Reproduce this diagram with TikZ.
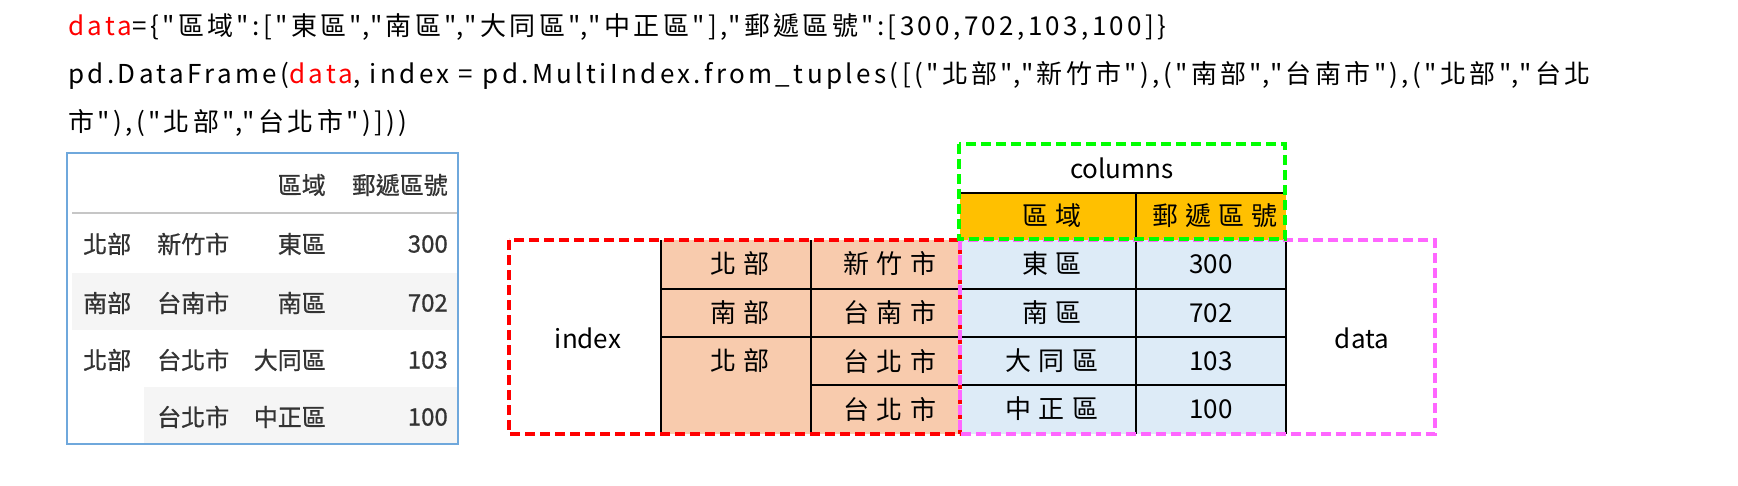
\documentclass[tikz,border=0pt]{standalone}
\usepackage{fontspec}
\setmainfont{Noto Sans CJK TC}
\newfontfamily\codefont[LetterSpace=13]{Noto Sans CJK TC}
\newfontfamily\wideface[LetterSpace=28]{Noto Sans CJK TC}
\newfontfamily\shotface[FakeBold=0.7]{Noto Sans CJK TC}
\usetikzlibrary{positioning}
\definecolor{idxfill}{HTML}{F8CBAD}
\definecolor{datfill}{HTML}{DDEBF7}
\definecolor{colfill}{HTML}{FFC000}
\definecolor{shotframe}{HTML}{6FA8DC}
\definecolor{shotshade}{HTML}{F5F5F5}
\definecolor{shottext}{HTML}{333333}
\definecolor{pinkline}{HTML}{FF66FF}
\definecolor{greenline}{HTML}{00FF00}

\begin{document}
\begin{tikzpicture}[x=1pt,y=-1pt,every node/.style={inner sep=0pt},
	code/.style={anchor=base west,font=\codefont\fontsize{26}{30}\selectfont},
	shot/.style={font=\shotface\fontsize{24}{28}\selectfont,text=shottext},
	cell/.style={font=\fontsize{26}{30}\selectfont},
	cjk cell/.style={font=\wideface\fontsize{26}{30}\selectfont},
	grid/.style={line width=1.6pt},
	box/.style={line width=4pt,dash pattern=on 10pt off 5pt}]

	\useasboundingbox (0,0) rectangle (1738,485);

	% the code
	\node[code] (line1) at (68,35) {\textcolor{red}{data}=\{"區域":["東區","南區","大同區","中正區"],"郵遞區號":[300,702,103,100]\}};
	\node[code] (line2) at (68,83) {pd.DataFrame(\textcolor{red}{data}, index = pd.MultiIndex.from\_tuples([("北部","新竹市"),("南部","台南市"),("北部","台北};
	\node[code] (line3) at (68,131) {市"),("北部","台北市")]))};

	% the printed frame
	\fill[shotshade] (72,273) rectangle (457,330);
	\fill[shotshade] (144,387) rectangle (457,444);
	\draw[gray!45,line width=2pt] (72,213) -- (457,213);
	\draw[shotframe,line width=2pt] (67,153) rectangle (458,444);

	\node[shot,anchor=east] (h1) at (326,185) {區域};
	\node[shot,anchor=east] (h2) at (448,185) {郵遞區號};
	\node[shot,anchor=west] (a1) at (83,244) {北部};
	\node[shot,anchor=west] (a2) at (83,303) {南部};
	\node[shot,anchor=west] (a3) at (83,360) {北部};
	\node[shot,anchor=west] (b1) at (157,244) {新竹市};
	\node[shot,anchor=west] (b2) at (157,303) {台南市};
	\node[shot,anchor=west] (b3) at (157,360) {台北市};
	\node[shot,anchor=west] (b4) at (157,417) {台北市};
	\node[shot,anchor=east] (c1) at (326,244) {東區};
	\node[shot,anchor=east] (c2) at (326,303) {南區};
	\node[shot,anchor=east] (c3) at (326,360) {大同區};
	\node[shot,anchor=east] (c4) at (326,417) {中正區};
	\node[shot,anchor=east] (d1) at (448,244) {300};
	\node[shot,anchor=east] (d2) at (448,303) {702};
	\node[shot,anchor=east] (d3) at (448,360) {103};
	\node[shot,anchor=east] (d4) at (448,417) {100};

	% the parts of a DataFrame
	\fill[colfill] (960,193) rectangle (1286,240);
	\fill[idxfill] (661,240) rectangle (960,434);
	\fill[datfill] (960,240) rectangle (1286,434);

	\draw[grid] (960,193) -- (1286,193);
	\draw[grid] (1136,193) -- (1136,434);
	\draw[grid] (1286,240) -- (1286,434);
	\draw[grid] (661,240) -- (661,434);
	\draw[grid] (811,240) -- (811,434);
	\draw[grid] (661,289) -- (1286,289);
	\draw[grid] (661,337) -- (1286,337);
	\draw[grid] (811,385) -- (1286,385);

	\draw[box,red] (509,240) rectangle (960,434);
	\draw[box,pinkline] (960,240) rectangle (1435,434);
	\draw[box,greenline] (959,144) rectangle (1285,239);

	\node[cell] (index) at (588,338) {index};
	\node[cell] (columns) at (1122,168) {columns};
	\node[cell] (data) at (1362,338) {data};

	\node[cjk cell] (area) at (1052,216) {區域};
	\node[cjk cell] (zip) at (1215,216) {郵遞區號};

	\node[cjk cell] (r1) at (740,264) {北部};
	\node[cjk cell] (r2) at (740,313) {南部};
	\node[cjk cell] (r3) at (740,361) {北部};
	\node[cjk cell] (s1) at (890,264) {新竹市};
	\node[cjk cell] (s2) at (890,313) {台南市};
	\node[cjk cell] (s3) at (890,361) {台北市};
	\node[cjk cell] (s4) at (890,409) {台北市};
	\node[cjk cell] (t1) at (1052,264) {東區};
	\node[cjk cell] (t2) at (1052,313) {南區};
	\node[cjk cell] (t3) at (1052,361) {大同區};
	\node[cjk cell] (t4) at (1052,409) {中正區};
	\node[cell] (u1) at (1211,264) {300};
	\node[cell] (u2) at (1211,313) {702};
	\node[cell] (u3) at (1211,361) {103};
	\node[cell] (u4) at (1211,409) {100};
\end{tikzpicture}
\end{document}
